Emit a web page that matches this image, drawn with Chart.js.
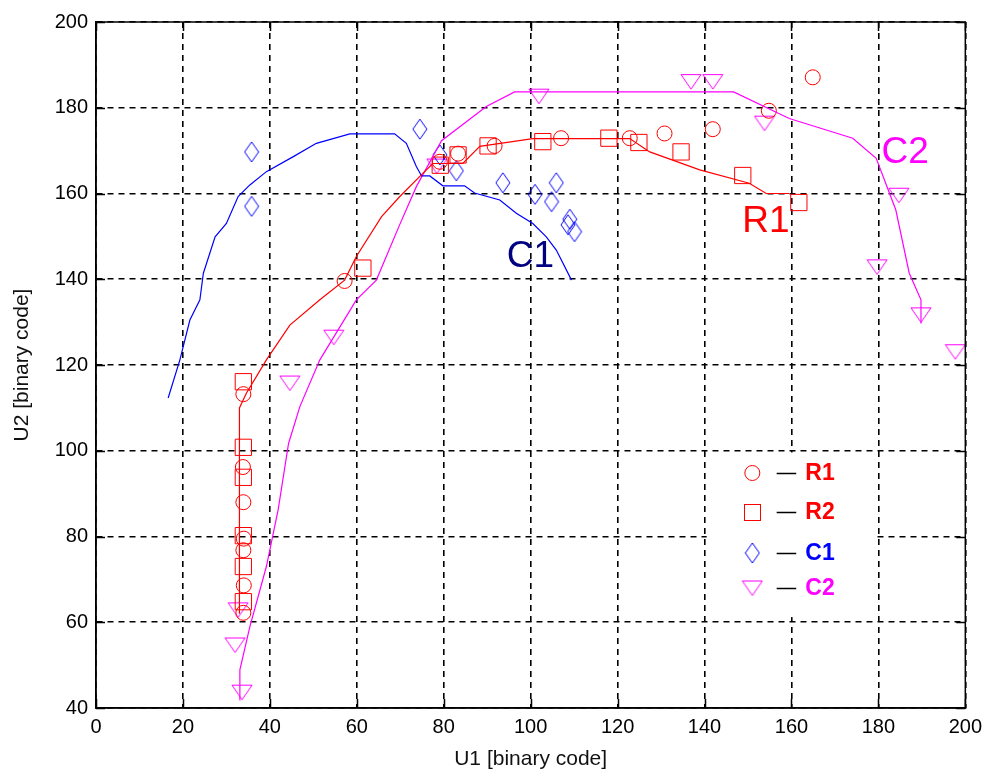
<!DOCTYPE html>
<html>
<head>
<meta charset="utf-8">
<script src="https://cdn.jsdelivr.net/npm/chart.js@4.4.1/dist/chart.umd.min.js"></script>
<style>
  body { margin: 0; background: #fff; }
</style>
</head>
<body>
<canvas id="chart" width="989" height="778"></canvas>
<script>
// fitted curves
const r1CurveX = [33, 33, 34.6, 39.2, 44.6, 51.5, 57.2, 59.9, 65.7, 69.9, 75.2, 77.5, 84.4, 88.3, 100.5, 122.8, 127.4, 138.9, 150.3, 154.2, 159.5];
const r1CurveY = [62, 110, 113.4, 121.2, 129.3, 135.2, 139.8, 145.3, 154.6, 159.3, 164.7, 167, 167, 171, 172.8, 172.8, 169.7, 165.5, 162.4, 160, 160];

const c1CurveX = [16.6, 19.3, 21.6, 23.9, 24.7, 27.4, 30, 32.7, 35.4, 39.2, 45.4, 50.7, 58.4, 68.7, 71.4, 73.7, 74.9, 76.8, 79.8, 84.8, 87.1, 92.9, 96.7, 100.5, 103.6, 105.9, 109.4];
const c1CurveY = [112.3, 121.2, 130.5, 135.2, 141.4, 149.9, 153, 159.3, 162, 165.1, 168.6, 171.7, 173.9, 173.9, 171.7, 166.3, 164.1, 164.1, 161.8, 161.8, 160.1, 158.5, 155.4, 153, 149.9, 146.8, 139.8];

const c2CurveX = [33, 33.1, 35.4, 39.2, 41.9, 44.3, 46.9, 51.5, 59.9, 64.5, 69.9, 73.7, 79.5, 89.8, 96.3, 146.7, 159.5, 174.1, 179.5, 184, 187.1, 189.8, 189.8];
const c2CurveY = [41.9, 48.9, 59, 73, 86.2, 101.7, 110.3, 121.2, 135.2, 139.8, 152.8, 161.6, 172.3, 180.3, 183.7, 183.7, 177.5, 172.9, 168.2, 156.2, 141.4, 135.2, 129.7];

// measured points
const r1X = [33.9, 33.8, 33.9, 34, 33.9, 34, 33.9, 57.2, 79.1, 83.3, 91.7, 107, 122.8, 130.8, 141.9, 154.8, 164.9];
const r1Y = [113.2, 96.2, 88, 79.5, 76.8, 68.6, 62.2, 139.6, 167.4, 169.3, 171.1, 172.9, 172.9, 174, 175, 179.3, 187.1];

const r2X = [33.9, 33.9, 33.9, 33.9, 33.9, 33.9, 61.4, 79.2, 83.3, 90.2, 102.8, 118, 124.9, 134.6, 148.8, 161.7];
const r2Y = [116.1, 100.8, 93.8, 80.2, 73, 64.8, 142.6, 166.6, 169, 171.1, 172.1, 172.9, 171.9, 169.7, 164.2, 157.9];

const c1X = [35.8, 35.8, 74.5, 79.1, 82.9, 93.6, 101, 104.8, 105.9, 108.6, 109, 110.1];
const c1Y = [169.7, 157, 175, 169, 165.3, 162.5, 159.8, 158.1, 162.5, 152.7, 154, 151.1];

const c2X = [32, 32.7, 33.6, 44.6, 54.7, 78.4, 101.9, 136.9, 141.9, 153.8, 179.7, 184.7, 189.8, 197.7];
const c2Y = [54.7, 62.9, 43.7, 115.8, 126.5, 166.4, 182.7, 186.1, 186.1, 176.4, 142.9, 159.6, 131.7, 123.1];

const xTicks = [0, 20, 40, 60, 80, 100, 120, 140, 160, 180, 200];
const yTicks = [40, 60, 80, 100, 120, 140, 160, 180, 200];

const legendLabels = ['R1', 'R2', 'C1', 'C2'];
const legendColors = ['#ff0000', '#ff0000', '#0000ff', '#ff00ff'];

const RED = '#ff0000';
const BLUE = '#0000ff';
const MAGENTA = '#ff00ff';
const FONT = "'Liberation Sans', Arial, Helvetica, sans-serif";

const pts = (xs, ys) => xs.map((x, i) => ({ x: x, y: ys[i] }));

// tall diamond, like the matlab 'd' marker
function makeDiamond(w, h, color) {
  const c = document.createElement('canvas');
  c.width = w + 2;
  c.height = h + 2;
  const g = c.getContext('2d');
  g.strokeStyle = color;
  g.lineWidth = 1;
  g.beginPath();
  g.moveTo(c.width / 2, 1);
  g.lineTo(c.width - 1, c.height / 2);
  g.lineTo(c.width / 2, c.height - 1);
  g.lineTo(1, c.height / 2);
  g.closePath();
  g.stroke();
  return c;
}

// downward triangle, 'v' marker
function makeTriangle(w, h, color) {
  const c = document.createElement('canvas');
  c.width = w + 2;
  c.height = h + 2;
  const g = c.getContext('2d');
  g.strokeStyle = color;
  g.lineWidth = 1;
  g.beginPath();
  g.moveTo(1, 1.5);
  g.lineTo(c.width - 1, 1.5);
  g.lineTo(c.width / 2, c.height - 1);
  g.closePath();
  g.stroke();
  return c;
}

const diamond = makeDiamond(14, 20, BLUE);
const triangle = makeTriangle(20, 15, MAGENTA);

const markerStyle = (color, style, radius) => ({
  showLine: false,
  pointStyle: style,
  pointRadius: radius,
  pointBorderColor: color,
  pointBackgroundColor: 'rgba(0,0,0,0)',
  pointBorderWidth: 1,
});

const curveStyle = (color) => ({
  showLine: true,
  borderColor: color,
  borderWidth: 1.2,
  pointRadius: 0,
  tension: 0,
});

const framePlugin = {
  id: 'frame',
  beforeDraw(chart) {
    const ctx = chart.ctx;
    ctx.save();
    ctx.fillStyle = '#fff';
    ctx.fillRect(0, 0, chart.width, chart.height);
    ctx.restore();
  },
  afterDatasetsDraw(chart) {
    const { ctx, scales } = chart;
    const sx = scales.x, sy = scales.y;

    // curve labels
    ctx.save();
    ctx.font = '37px ' + FONT;
    ctx.textBaseline = 'alphabetic';
    ctx.fillStyle = RED;
    ctx.fillText('R1', sx.getPixelForValue(148.7), sy.getPixelForValue(151));
    ctx.fillStyle = '#000080';
    ctx.fillText('C1', sx.getPixelForValue(94.5), sy.getPixelForValue(142.9));
    ctx.fillStyle = MAGENTA;
    ctx.fillText('C2', sx.getPixelForValue(180.7), sy.getPixelForValue(167.1));
    ctx.restore();

    // legend box
    const bx0 = sx.getPixelForValue(140.5), bx1 = sx.getPixelForValue(179.4);
    const by0 = sy.getPixelForValue(99.6), by1 = sy.getPixelForValue(61.2);
    ctx.save();
    ctx.fillStyle = '#fff';
    ctx.fillRect(bx0, by0, bx1 - bx0, by1 - by0);
    const rowsY = [94.8, 85.7, 76.2, 68];
    const mx = sx.getPixelForValue(151);
    legendLabels.forEach((label, i) => {
      const y = Math.round(sy.getPixelForValue(rowsY[i]));
      const c = legendColors[i];
      ctx.strokeStyle = c;
      ctx.lineWidth = 1;
      if (i === 0) {
        ctx.beginPath();
        ctx.arc(mx, y, 7.5, 0, Math.PI * 2);
        ctx.stroke();
      } else if (i === 1) {
        ctx.strokeRect(Math.round(mx - 8) + 0.5, y - 8 + 0.5, 16, 16);
      } else if (i === 2) {
        ctx.drawImage(diamond, mx - diamond.width / 2, y - diamond.height / 2);
      } else {
        ctx.drawImage(triangle, mx - triangle.width / 2, y - triangle.height / 2);
      }
      ctx.strokeStyle = '#000';
      ctx.lineWidth = 1.5;
      ctx.beginPath();
      ctx.moveTo(sx.getPixelForValue(156.6), y + 0.5);
      ctx.lineTo(sx.getPixelForValue(161.1), y + 0.5);
      ctx.stroke();
      ctx.fillStyle = c;
      ctx.font = 'bold 23px ' + FONT;
      ctx.textBaseline = 'middle';
      ctx.fillText(label, sx.getPixelForValue(163.2), y + 1);
    });
    ctx.restore();
  },
  afterDraw(chart) {
    const { ctx, chartArea: a, scales } = chart;
    ctx.save();
    ctx.strokeStyle = '#000';
    ctx.lineWidth = 1.5;
    ctx.strokeRect(a.left, a.top, a.right - a.left, a.bottom - a.top);
    // inward tick marks on all four sides
    const len = 9;
    ctx.beginPath();
    xTicks.forEach(v => {
      const x = Math.round(scales.x.getPixelForValue(v)) + 0.5;
      ctx.moveTo(x, a.bottom); ctx.lineTo(x, a.bottom - len);
      ctx.moveTo(x, a.top); ctx.lineTo(x, a.top + len);
    });
    yTicks.forEach(v => {
      const y = Math.round(scales.y.getPixelForValue(v)) + 0.5;
      ctx.moveTo(a.left, y); ctx.lineTo(a.left + len, y);
      ctx.moveTo(a.right, y); ctx.lineTo(a.right - len, y);
    });
    ctx.stroke();
    ctx.restore();
  },
};

new Chart(document.getElementById('chart'), {
  type: 'scatter',
  data: {
    datasets: [
      { label: 'R1 curve', data: pts(r1CurveX, r1CurveY), ...curveStyle(RED) },
      { label: 'C1 curve', data: pts(c1CurveX, c1CurveY), ...curveStyle(BLUE) },
      { label: 'C2 curve', data: pts(c2CurveX, c2CurveY), ...curveStyle(MAGENTA) },
      { label: 'R1', data: pts(r1X, r1Y), ...markerStyle(RED, 'circle', 7.5) },
      { label: 'R2', data: pts(r2X, r2Y), ...markerStyle(RED, 'rect', 11.5) },
      { label: 'C1', data: pts(c1X, c1Y), ...markerStyle(BLUE, diamond, 10) },
      { label: 'C2', data: pts(c2X, c2Y), ...markerStyle(MAGENTA, triangle, 10) },
    ],
  },
  options: {
    responsive: false,
    animation: false,
    layout: { padding: { top: 22, right: 23, left: 0, bottom: 0 } },
    plugins: { legend: { display: false }, tooltip: { enabled: false } },
    scales: {
      x: {
        type: 'linear',
        min: 0,
        max: 200,
        afterBuildTicks: (s) => { s.ticks = xTicks.map(v => ({ value: v })); },
        afterFit: (s) => { s.height = 70; },
        ticks: { color: '#000', padding: 7, font: { family: FONT, size: 20 } },
        grid: { color: '#000', lineWidth: 1.6, drawTicks: false },
        border: { display: true, color: '#000', width: 1.5, dash: [6, 5] },
        title: {
          display: true,
          text: 'U1 [binary code]',
          color: '#111',
          font: { family: FONT, size: 21 },
          padding: { top: 0, bottom: 6 },
        },
      },
      y: {
        type: 'linear',
        min: 40,
        max: 200,
        afterBuildTicks: (s) => { s.ticks = yTicks.map(v => ({ value: v })); },
        afterFit: (s) => { s.width = 96; },
        ticks: { color: '#000', padding: 8, font: { family: FONT, size: 20 } },
        grid: { color: '#000', lineWidth: 1.6, drawTicks: false },
        border: { display: true, color: '#000', width: 1.5, dash: [6, 5] },
        title: {
          display: true,
          text: 'U2 [binary code]',
          color: '#111',
          font: { family: FONT, size: 21 },
          padding: { top: 10, bottom: 0 },
        },
      },
    },
  },
  plugins: [framePlugin],
});
</script>
</body>
</html>
